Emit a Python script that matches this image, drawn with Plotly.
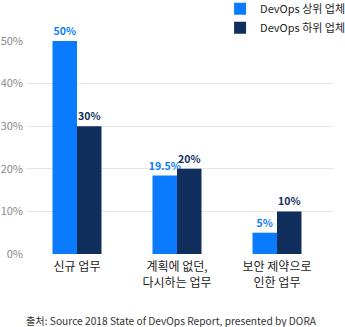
import plotly.graph_objects as go

categories = ["신규 업무", "계획에 없던,<br>다시하는 업무", "보안 제약으로<br>인한 업무"]
series_names = ["DevOps 상위 업체", "DevOps 하위 업체"]
top_values = [50, 18.4, 5]
top_labels = ["50%", "19.5%", "5%"]
low_values = [30, 20, 10]
low_labels = ["30%", "20%", "10%"]
tick_vals = [0, 10, 20, 30, 40, 50]
tick_text = ["0%", "10%", "20%", "30%", "40%", "50%"]
source_text = "출처: Source 2018 State of DevOps Report, presented by DORA"

BLUE = "#0a7bff"
NAVY = "#112f5c"
FONT = "Noto Sans CJK KR"

fig = go.Figure()
fig.add_trace(go.Bar(
    x=categories, y=top_values, name=series_names[0],
    marker=dict(color=BLUE, line=dict(width=0)),
    text=top_labels, textposition="outside", cliponaxis=False,
    constraintext="none",
    textfont=dict(color=BLUE, size=10.5, family=FONT, weight="bold"),
))
fig.add_trace(go.Bar(
    x=categories, y=low_values, name=series_names[1],
    marker=dict(color=NAVY, line=dict(width=0)),
    text=low_labels, textposition="outside", cliponaxis=False,
    constraintext="none",
    textfont=dict(color=NAVY, size=10.5, family=FONT, weight="bold"),
))

fig.update_layout(
    width=345, height=327,
    margin=dict(l=27, r=12, t=41, b=73, autoexpand=False),
    paper_bgcolor="white", plot_bgcolor="white",
    font=dict(family=FONT, size=12, color="#222"),
    barmode="group", bargap=0.51, bargroupgap=0,
    showlegend=True,
    legend=dict(
        xref="paper", yref="paper",
        x=0.631, xanchor="left", y=1.22, yanchor="top",
        font=dict(size=11, color="#222", family=FONT),
        itemwidth=30, tracegroupgap=0,
        bgcolor="rgba(0,0,0,0)",
    ),
    xaxis=dict(
        range=[-0.5, 2.56], tickangle=0, automargin=False,
        ticklabelstandoff=4,
        showgrid=False, showline=False, zeroline=False,
        ticks="", tickfont=dict(size=12, color="#222", family=FONT),
    ),
    yaxis=dict(
        range=[0, 50], tickvals=tick_vals, ticktext=tick_text,
        automargin=False, ticklabelstandoff=3,
        showgrid=True, gridcolor="#e6e6e6", gridwidth=1,
        zeroline=False, showline=False, ticks="",
        tickfont=dict(size=11, color="#8a8a8a", family=FONT),
    ),
    annotations=[dict(
        text=source_text, xref="paper", yref="paper",
        x=0.472, y=-0.312, xanchor="center", yanchor="middle",
        showarrow=False, font=dict(size=10.2, color="#333", family=FONT),
    )],
)

fig.write_html("out.html")
